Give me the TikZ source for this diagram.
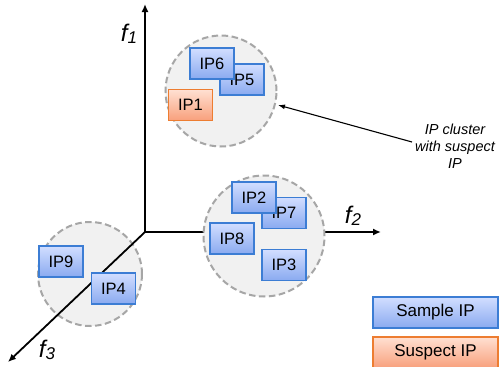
\documentclass[tikz,border=0pt]{standalone}
\usepackage{fontspec}
\setmainfont{Liberation Sans}
\usetikzlibrary{arrows.meta}
\definecolor{blueedge}{HTML}{3C7DD4}
\definecolor{bluetop}{HTML}{D2DEFF}
\definecolor{bluebot}{HTML}{8AAAF0}
\definecolor{orgedge}{HTML}{ED7D31}
\definecolor{orgtop}{HTML}{FFE0D2}
\definecolor{orgbot}{HTML}{F8A07C}
\definecolor{clfill}{HTML}{F1F1F1}
\definecolor{cledge}{HTML}{A6A6A6}
\tikzset{
  ipbox/.style={draw=blueedge, line width=1.1pt, top color=bluetop, bottom color=bluebot,
    minimum width=44pt, minimum height=31pt, inner sep=0pt, font=\fontsize{16.5}{17}\selectfont},
  susbox/.style={ipbox, draw=orgedge, top color=orgtop, bottom color=orgbot},
  cluster/.style={draw=cledge, fill=clfill, dash pattern=on 6.5pt off 3.5pt, line width=2pt},
  axis/.style={line width=1.8pt, -{Latex[length=8pt,width=7pt]}},
  axlabel/.style={inner sep=0pt, font=\fontsize{24}{25}\selectfont\itshape},
  legbox/.style={draw=blueedge, line width=1.1pt, top color=bluetop, bottom color=bluebot,
    minimum width=125pt, minimum height=31pt, inner sep=0pt, font=\fontsize{17}{18}\selectfont},
  note/.style={align=center, font=\fontsize{14.5}{17}\selectfont\itshape, inner sep=0pt}
}
\newcommand{\axname}[1]{f\raisebox{-2pt}{\fontsize{17}{17}\selectfont #1}}
\begin{document}
\begin{tikzpicture}[x=1pt,y=-1pt]
\useasboundingbox (0,0) rectangle (499,367);
\clip (0,0) rectangle (499,367);
\fill[white] (0,0) rectangle (499,367);
% axes coordinates
\coordinate (O) at (145,232);
\coordinate (e1) at (145,4);
\coordinate (e2) at (381,232);
\coordinate (e3) at (8,362);
% cluster 3 under axes
\node[cluster, circle, minimum size=104pt, inner sep=0pt] (c3) at (90,274) {};
\draw[axis] (O) -- (e1);
\draw[axis] (O) -- (e2);
\node[cluster, circle, minimum size=121pt, inner sep=0pt] (c2) at (264,236) {};
\node[cluster, circle, minimum size=111pt, inner sep=0pt] (c1) at (221,91) {};
\draw[axis] (O) -- (e3);
% axis labels
\node[axlabel] (l1) at (129,34) {\axname{1}};
\node[axlabel] (l2) at (353,216) {\axname{2}};
\node[axlabel] (l3) at (47,350) {\axname{3}};
% cluster 1
\node[ipbox] (ip5) at (242,79.5) {IP5};
\node[ipbox] (ip6) at (212,63.5) {IP6};
\node[susbox] (ip1) at (190.5,105) {IP1};
% cluster 2
\node[ipbox] (ip7) at (284,213) {IP7};
\node[ipbox] (ip2) at (254,197.5) {IP2};
\node[ipbox] (ip8) at (232,238.5) {IP8};
\node[ipbox] (ip3) at (284,265) {IP3};
% cluster 3
\node[ipbox] (ip9) at (61,261.5) {IP9};
\node[ipbox] (ip4) at (113.5,288.5) {IP4};
% annotation
\node[note] (note) at (455,146) {IP cluster\\with suspect\\IP};
\coordinate (ns) at (412,142);
\coordinate (nt) at (278,105);
\draw[line width=1.1pt, -{Latex[length=7pt,width=5pt]}] (ns) -- (nt);
% legend
\node[legbox] (lg1) at (435.5,312.5) {Sample IP};
\node[legbox, draw=orgedge, top color=orgtop, bottom color=orgbot] (lg2) at (435.5,352.5) {Suspect IP};
\end{tikzpicture}
\end{document}
